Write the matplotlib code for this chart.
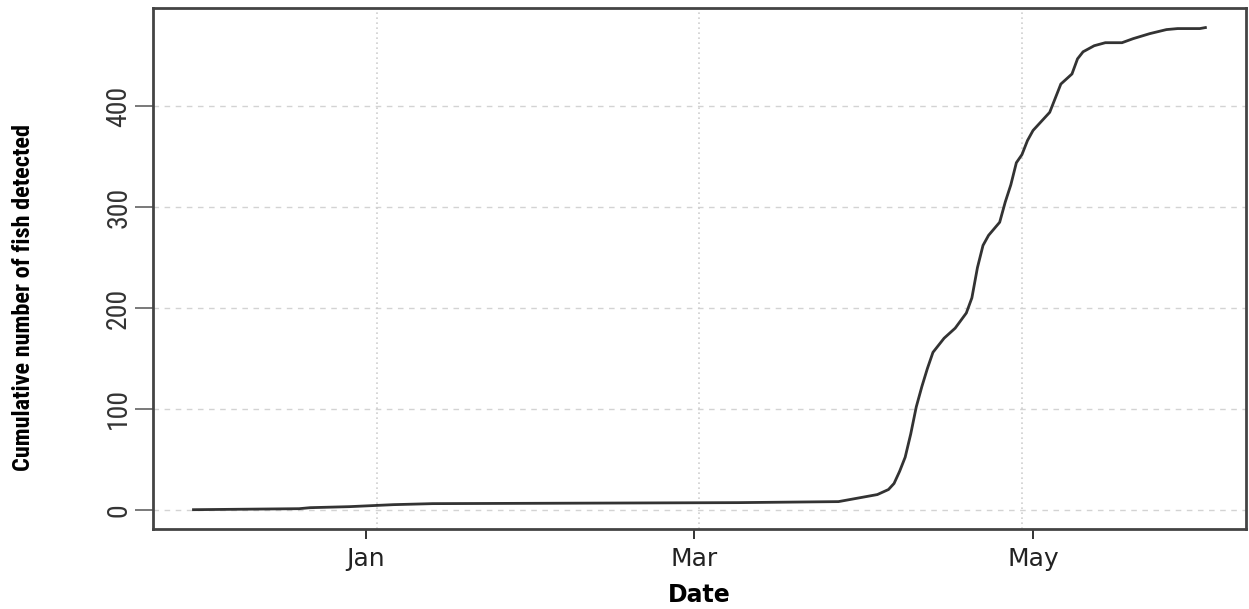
import matplotlib
matplotlib.use("Agg")
import matplotlib.pyplot as plt
import matplotlib.dates as mdates
import pandas as pd
from matplotlib import font_manager

# cumulative detections
dates = [
    "2018-12-01", "2018-12-20", "2018-12-22", "2018-12-29", "2019-01-02",
    "2019-01-06", "2019-01-13", "2019-03-09", "2019-03-27", "2019-03-29",
    "2019-03-31", "2019-04-03", "2019-04-05", "2019-04-06", "2019-04-07",
    "2019-04-08", "2019-04-09", "2019-04-10", "2019-04-11", "2019-04-12",
    "2019-04-13", "2019-04-15", "2019-04-17", "2019-04-19", "2019-04-20",
    "2019-04-21", "2019-04-22", "2019-04-23", "2019-04-25", "2019-04-26",
    "2019-04-27", "2019-04-28", "2019-04-29", "2019-04-30", "2019-05-01",
    "2019-05-04", "2019-05-05", "2019-05-06", "2019-05-08", "2019-05-09",
    "2019-05-10", "2019-05-12", "2019-05-14", "2019-05-17", "2019-05-19",
    "2019-05-22", "2019-05-25", "2019-05-27", "2019-05-31", "2019-06-01",
]
cum_fish = [
    0, 1, 2, 3, 4,
    5, 6, 7, 8, 10,
    12, 15, 20, 26, 38,
    52, 75, 102, 122, 140,
    156, 170, 180, 195, 210,
    240, 262, 272, 285, 305,
    322, 344, 352, 366, 376,
    394, 408, 422, 432, 447,
    454, 460, 463, 463, 467,
    472, 476, 477, 477, 478,
]

tick_dates = ["2019-01-01", "2019-03-01", "2019-05-01"]
tick_labels = ["Jan", "Mar", "May"]
grid_dates = ["2019-01-03", "2019-03-02", "2019-04-29"]
y_ticks = [0, 100, 200, 300, 400]


def _pick_font(names, fallback="DejaVu Sans"):
    avail = {f.name for f in font_manager.fontManager.ttflist}
    for name in names:
        if name in avail:
            return name
    return fallback


narrow = _pick_font(["Liberation Sans Narrow", "DejaVu Sans Condensed", "Roboto Condensed"])
wide = _pick_font(["DejaVu Sans"])

x = pd.to_datetime(dates)
xt = pd.to_datetime(tick_dates)
xg = pd.to_datetime(grid_dates)

fig = plt.figure(figsize=(12.49, 6.09), dpi=100)
ax = fig.add_axes([0.1225, 0.1314, 0.8750, 0.8550])

ax.plot(x, cum_fish, color="#333333", linewidth=2.0, solid_joinstyle="miter")

# R-style 4% padding
xmin, xmax = mdates.date2num(x.min()), mdates.date2num(x.max())
pad = 0.04 * (xmax - xmin)
ax.set_xlim(xmin - pad, xmax + pad)
ymin, ymax = min(cum_fish), max(cum_fish)
ypad = 0.04 * (ymax - ymin)
ax.set_ylim(ymin - ypad, ymax + ypad)

for yv in y_ticks:
    ax.axhline(yv, color="#d3d3d3", linewidth=1.0, linestyle=(0, (4, 4)), zorder=0)
for gd in xg:
    ax.axvline(gd, color="#cfcfcf", linewidth=1.2, linestyle=(0, (1, 2)), zorder=0)

ax.set_xticks(xt)
ax.set_xticklabels(tick_labels, fontsize=18, color="#222222", family=wide)
ax.set_yticks(y_ticks)
ax.set_yticklabels([str(v) for v in y_ticks], rotation=90, va="center",
                   fontsize=20, color="#333333", family=narrow)
ax.tick_params(axis="x", length=7, width=1.4, color="#333333", pad=6)
ax.tick_params(axis="y", length=13, width=1.1, color="#555555", pad=2)

for side in ["left", "right", "top", "bottom"]:
    ax.spines[side].set_color("#444444")
    ax.spines[side].set_linewidth(2.0)

ax.set_xlabel("Date", fontsize=17, fontweight="bold", family=wide)
ax.xaxis.set_label_coords(0.5, -0.104)
ax.set_ylabel("Cumulative number of fish detected", fontsize=17.5, fontweight="bold",
              family=narrow)
ax.yaxis.set_label_coords(-0.108, 0.445)

fig.savefig("out.png", dpi=100)
